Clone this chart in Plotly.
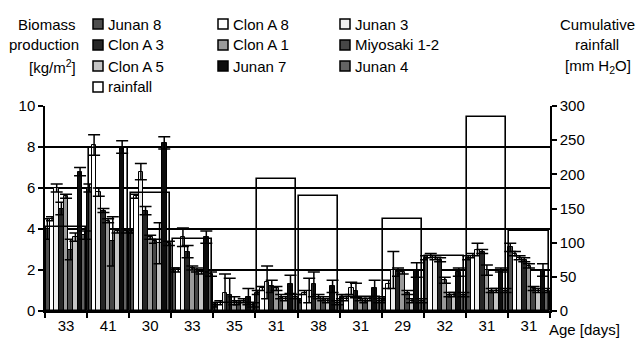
import plotly.graph_objects as go

age_labels = ["33", "41", "30", "33", "35", "31", "38", "31", "29", "32", "31", "31"]

series_names = ["Junan 8", "Clon A 8", "Junan 3", "Clon A 3", "Clon A 1",
                "Miyosaki 1-2", "Clon A 5", "Junan 7", "Junan 4"]
series_colors = ["#4d4d4d", "#ffffff", "#eeeeee", "#262626", "#9a9a9a",
                 "#474747", "#c4c4c4", "#0d0d0d", "#636363"]

junan8 = [4.0, 6.0, 3.9, 2.0, 0.3, 0.9, 0.5, 0.7, 0.6, 2.6, 2.6, 3.1]
clonA8 = [4.5, 8.1, 5.6, 2.0, 0.4, 1.1, 0.9, 0.6, 1.3, 2.7, 2.7, 2.8]
junan3 = [6.0, 5.8, 6.8, 3.6, 0.9, 1.4, 1.0, 1.1, 2.0, 2.6, 3.0, 2.6]
clonA3 = [5.0, 4.9, 4.9, 2.9, 0.8, 1.2, 1.3, 1.0, 1.9, 2.5, 2.9, 2.5]
clonA1 = [5.6, 4.4, 3.6, 2.1, 0.5, 1.1, 0.7, 0.6, 1.9, 1.5, 2.0, 2.2]
miyosaki = [3.0, 3.4, 3.4, 2.0, 0.4, 0.7, 0.6, 0.5, 0.9, 0.8, 1.0, 1.1]
clonA5 = [3.6, 3.9, 3.3, 1.9, 0.5, 0.6, 0.5, 0.6, 0.5, 0.8, 1.0, 1.0]
junan7 = [6.8, 8.0, 8.2, 3.6, 0.7, 1.3, 1.2, 1.1, 2.0, 1.9, 2.0, 2.0]
junan4 = [3.7, 3.9, 3.3, 1.8, 0.3, 0.7, 0.4, 0.5, 0.5, 0.8, 1.0, 1.0]

err_junan8 = [0.5, 0.2, 0.1, 0.1, 0.1, 0.1, 0.1, 0.1, 0.1, 0.1, 0.1, 0.2]
err_clonA8 = [0.1, 0.5, 0.1, 0.1, 0.1, 0.1, 0.1, 0.1, 0.2, 0.1, 0.1, 0.1]
err_junan3 = [0.2, 0.2, 0.4, 0.45, 0.9, 0.8, 0.6, 0.3, 0.9, 0.1, 0.3, 0.1]
err_clonA3 = [0.3, 0.1, 0.2, 0.3, 0.8, 0.3, 0.6, 0.35, 0.2, 0.1, 0.1, 0.1]
err_clonA1 = [0.1, 0.1, 0.1, 0.1, 0.2, 0.1, 0.1, 0.1, 0.1, 0.15, 0.25, 0.1]
err_miyosaki = [0.5, 1.2, 0.1, 0.1, 0.1, 0.1, 0.1, 0.1, 0.1, 0.1, 0.1, 0.1]
err_clonA5 = [0.2, 0.1, 1.0, 0.1, 0.1, 0.1, 0.1, 0.1, 0.1, 0.1, 0.1, 0.1]
err_junan7 = [0.2, 0.3, 0.3, 0.3, 0.4, 0.45, 0.3, 0.4, 0.35, 0.2, 0.1, 0.3]
err_junan4 = [0.2, 0.1, 0.1, 0.1, 0.1, 0.1, 0.1, 0.1, 0.1, 0.1, 0.1, 0.1]

rainfall = [123, 239, 173, 105, 12, 193, 168, 20, 134, 80, 284, 117]

series_values = [junan8, clonA8, junan3, clonA3, clonA1, miyosaki, clonA5, junan7, junan4]
series_errors = [err_junan8, err_clonA8, err_junan3, err_clonA3, err_clonA1,
                 err_miyosaki, err_clonA5, err_junan7, err_junan4]

FONT = "Liberation Sans, Arial, sans-serif"
FS = 15
xs = list(range(len(age_labels)))

fig = go.Figure()
for name, color, vals, errs in zip(series_names, series_colors, series_values, series_errors):
    fig.add_trace(go.Bar(
        x=xs, y=vals, name=name, yaxis="y",
        marker=dict(color=color, line=dict(color="black", width=1)),
        error_y=dict(type="data", array=errs, visible=True, color="black",
                     thickness=1.5, width=6),
        showlegend=False,
    ))

fig.add_trace(go.Bar(
    x=xs, y=rainfall, name="rainfall", yaxis="y2", width=0.93,
    marker=dict(color="rgba(0,0,0,0)", line=dict(color="black", width=1.6)),
    showlegend=False,
))

# plot area geometry in pixels
L, R, T, B = 45, 550, 106, 311
PW, PH = R - L, B - T


def px(x):
    return (x - L) / PW


def py(y):
    return (B - y) / PH


annotations = []
shapes = []

# Manual legend (3 columns)
legend_layout = [
    [("Junan 8", 0), ("Clon A 3", 3), ("Clon A 5", 6), ("rainfall", None)],
    [("Clon A 8", 1), ("Clon A 1", 4), ("Junan 7", 7)],
    [("Junan 3", 2), ("Miyosaki 1-2", 5), ("Junan 4", 8)],
]
col_swatch_x = [93, 218, 340]
row_y = [24, 45, 66, 87]
for ci, col in enumerate(legend_layout):
    sx = col_swatch_x[ci]
    for ri, (label, idx) in enumerate(col):
        cy = row_y[ri]
        fill = series_colors[idx] if idx is not None else "#ffffff"
        shapes.append(dict(type="rect", xref="paper", yref="paper",
                           x0=px(sx), x1=px(sx + 10), y0=py(cy + 5), y1=py(cy - 5),
                           fillcolor=fill, line=dict(color="black", width=1.5)))
        annotations.append(dict(text=label, xref="paper", yref="paper",
                                x=px(sx + 13), y=py(cy), xanchor="left", yanchor="middle",
                                showarrow=False, font=dict(family=FONT, size=FS, color="black")))

# Axis titles
for text, cx, cy in [("Biomass", 46.5, 24), ("production", 43.5, 45), ("[kg/m<sup>2</sup>]", 52, 66),
                     ("Cumulative", 597, 24), ("rainfall", 597, 45), ("[mm H<sub>2</sub>O]", 598, 66)]:
    annotations.append(dict(text=text, xref="paper", yref="paper", x=px(cx), y=py(cy),
                            xanchor="center", yanchor="middle", showarrow=False,
                            font=dict(family=FONT, size=FS, color="black")))

annotations.append(dict(text="Age [days]", xref="paper", yref="paper", x=px(547), y=py(329),
                        xanchor="left", yanchor="middle", showarrow=False,
                        font=dict(family=FONT, size=FS, color="black")))

fig.update_layout(
    width=642, height=339,
    margin=dict(l=L, r=642 - R, t=T, b=339 - B, autoexpand=False),
    paper_bgcolor="white", plot_bgcolor="white",
    barmode="group", bargap=0.0, bargroupgap=0.0,
    font=dict(family=FONT, size=FS, color="black"),
    showlegend=False,
    xaxis=dict(
        range=[-0.5, len(age_labels) - 0.5], automargin=False,
        tickmode="array", tickvals=xs, ticktext=age_labels,
        ticks="", showline=True, linecolor="black", linewidth=1.5,
        showgrid=False, zeroline=False,
        minor=dict(tickmode="array", tickvals=[i - 0.5 for i in range(len(age_labels) + 1)],
                   ticks="outside", ticklen=5, tickcolor="black", tickwidth=1.5, showgrid=False),
        tickfont=dict(family=FONT, size=FS),
    ),
    yaxis=dict(
        range=[0, 10], dtick=2, tick0=0, showgrid=True, gridcolor="black", gridwidth=1.5,
        showline=True, linecolor="black", linewidth=1.5, ticks="outside", ticklen=5,
        tickcolor="black", tickwidth=1.5, zeroline=False, automargin=False,
        tickfont=dict(family=FONT, size=FS),
    ),
    yaxis2=dict(
        range=[0, 300], dtick=50, tick0=0, overlaying="y", side="right",
        showgrid=False, showline=True, linecolor="black", linewidth=1.5,
        ticks="outside", ticklen=5, tickcolor="black", tickwidth=1.5, zeroline=False,
        automargin=False,
        tickfont=dict(family=FONT, size=FS),
    ),
    annotations=annotations,
    shapes=shapes,
)

fig.write_html("out.html", config={"displayModeBar": False},
               post_script="document.body.style.margin='0';")
